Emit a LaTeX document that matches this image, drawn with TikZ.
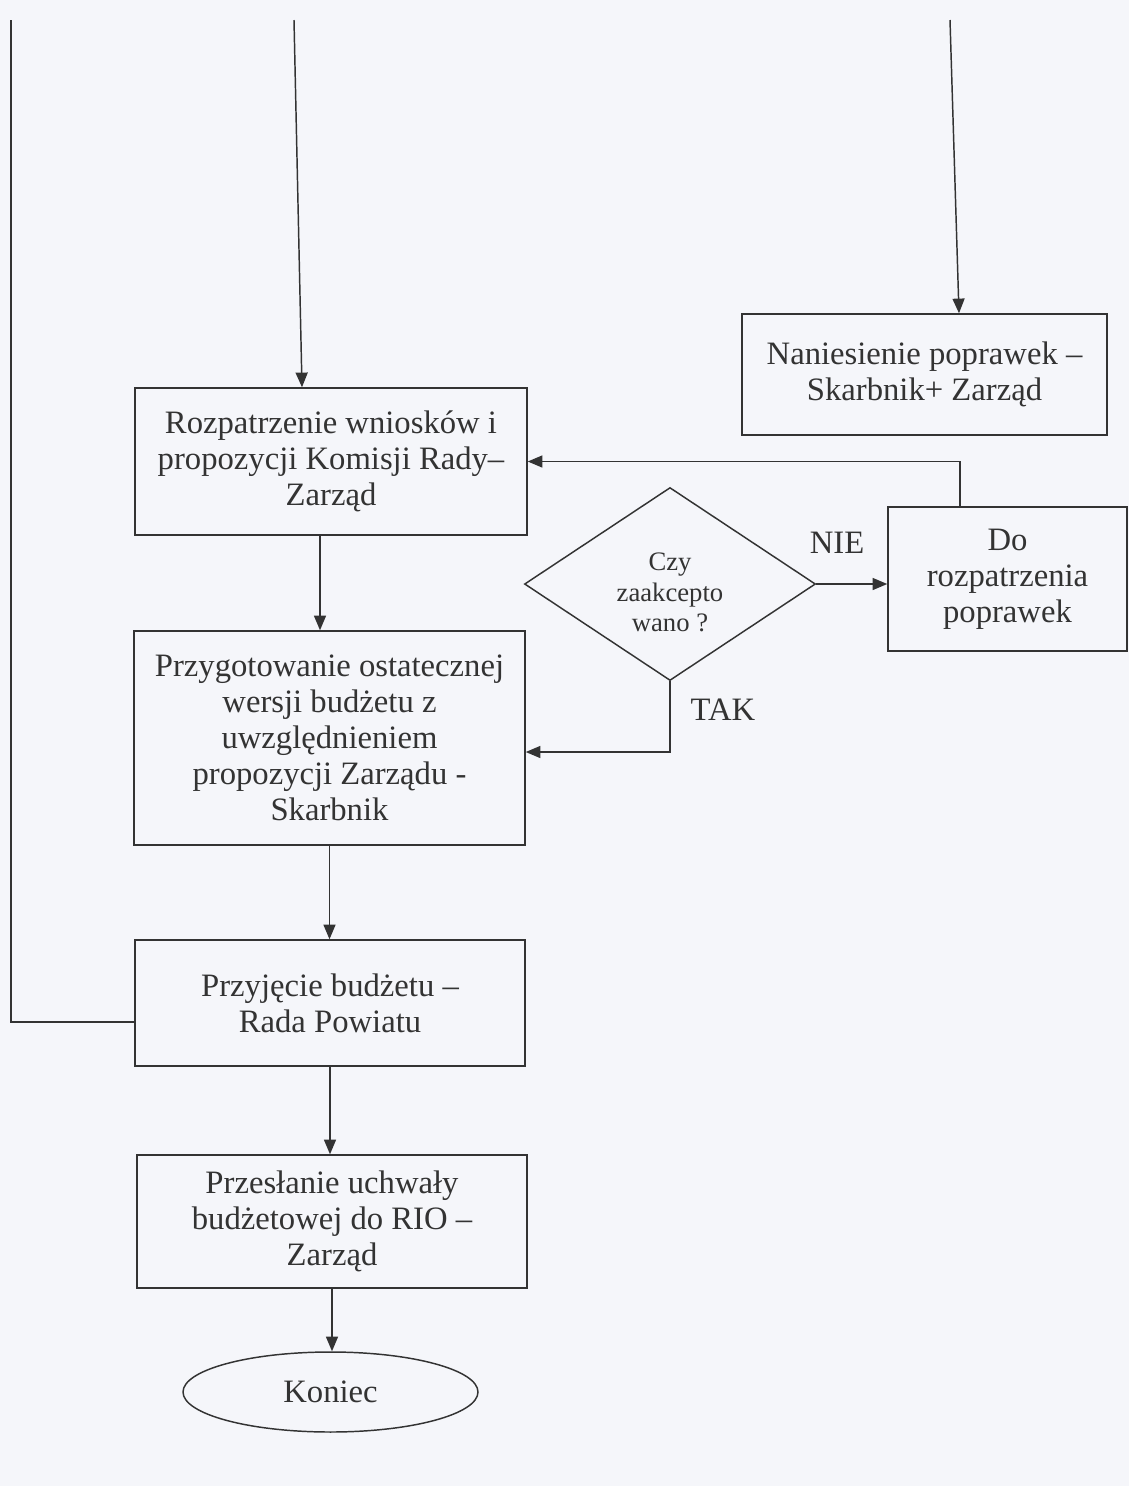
\documentclass[tikz,border=0pt]{standalone}
\usepackage{fontspec}
\setmainfont{Liberation Serif}
\usetikzlibrary{arrows.meta,shapes.geometric,calc}
\definecolor{paper}{HTML}{F5F6FA}
\definecolor{ink}{HTML}{333333}
\begin{document}
\begin{tikzpicture}[x=0.75pt,y=-0.75pt,
  every node/.style={text=ink},
  box/.style={draw=ink,line width=1.1pt,rectangle,inner sep=0pt,align=center,
    font=\fontsize{24.5}{27}\selectfont},
  decision/.style={draw=ink,line width=1.1pt,diamond,inner sep=0pt,align=center,
    font=\fontsize{20}{23}\selectfont},
  terminal/.style={draw=ink,line width=1.1pt,ellipse,inner sep=0pt,align=center,
    font=\fontsize{24.5}{27}\selectfont},
  lbl/.style={font=\fontsize{24.5}{27}\selectfont},
  conn/.style={draw=ink,line width=1.1pt},
  arr/.style={conn,-{Triangle[length=11pt,width=9pt]}}]
\fill[paper] (0,0) rectangle (1129,1486);
\useasboundingbox (0,0) rectangle (1129,1486);

\node[box,minimum width=294pt,minimum height=110.25pt] (B1) at (331,461.5)
  {Rozpatrzenie wniosków i\\propozycji Komisji Rady–\\Zarząd};
\node[box,minimum width=273.75pt,minimum height=90.75pt] (N) at (924.5,374.5)
  {Naniesienie poprawek –\\Skarbnik+ Zarząd};
\node[decision,minimum width=218.25pt,minimum height=144.75pt,
  label={[font=\fontsize{20}{23}\selectfont,align=center,yshift=-6.5pt]center:Czy\\zaakcepto\\wano ?}] (D) at (670,584) {};
\node[box,minimum width=179.25pt,minimum height=108pt] (Do) at (1007.5,579)
  {Do\\rozpatrzenia\\poprawek};
\node[box,minimum width=293.25pt,minimum height=160.5pt] (B2) at (329.5,738)
  {Przygotowanie ostatecznej\\wersji budżetu z\\uwzględnieniem\\propozycji Zarządu -\\Skarbnik};
\node[box,minimum width=292.5pt,minimum height=94.5pt] (B3) at (330,1003)
  {Przyjęcie budżetu –\\Rada Powiatu};
\node[box,minimum width=292.5pt,minimum height=99.75pt] (B4) at (332,1221.5)
  {Przesłanie uchwały\\budżetowej do RIO –\\Zarząd};
\node[terminal,minimum width=221.25pt,minimum height=60pt] (E) at (330.5,1392)
  {Koniec};

\node[lbl] (nie) at (837,543) {NIE};
\node[lbl] (tak) at (723,710) {TAK};

\coordinate (tL) at (11,20);
\coordinate (tM) at (294,20);
\coordinate (tR) at (950,20);

\draw[arr] (tM) -- ($(B1.north)+(-29,0)$);
\draw[arr] (tR) -- ($(N.north)+(34.5,0)$);
\draw[conn] (tL) |- ($(B3.west)+(0,19)$);
\draw[arr] ($(B1.south)+(-11,0)$) -- ($(B2.north)+(-9.5,0)$);
\draw[arr] (B2.south) -- (B2.south |- B3.north);
\draw[arr] (B3.south) -- (B3.south |- B4.north);
\draw[arr] (B4.south) -- (B4.south |- E.north);
\draw[arr] (D.east) -- (D.east -| Do.west);
\draw[arr] ($(Do.north)+(-47.5,0)$) |- (B1.east);
\draw[arr] (D.south) |- ($(B2.east)+(0,14)$);
\end{tikzpicture}
\end{document}
